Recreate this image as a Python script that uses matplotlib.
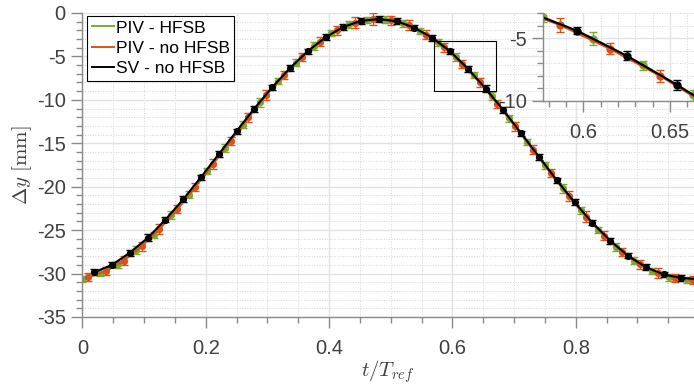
import matplotlib
matplotlib.use('Agg')
import matplotlib.pyplot as plt
from matplotlib.lines import Line2D
from matplotlib.patches import Rectangle
from matplotlib.ticker import MultipleLocator
import numpy as np

# sample times (frames of 1/104 T_ref, every third frame per series)
t_green = np.arange(0, 103, 3) / 104
t_orange = np.arange(1, 104, 3) / 104
t_black = np.arange(2, 105, 3) / 104

dy_green = [-30.62, -29.95, -28.95, -27.30, -25.60, -23.25, -20.95, -18.20, -15.55, -12.85,
            -10.30, -7.80, -5.70, -3.80, -2.30, -1.30, -0.80, -0.75, -1.20, -2.10,
            -3.35, -5.05, -7.15, -9.55, -12.10, -14.85, -17.55, -20.20, -22.70, -24.95,
            -26.90, -28.50, -29.70, -30.40, -30.70]
dy_orange = [-30.40, -29.70, -28.50, -26.85, -24.85, -22.60, -20.05, -17.40, -14.70, -12.00,
             -9.45, -7.15, -5.05, -3.30, -2.00, -1.10, -0.70, -0.85, -1.40, -2.50,
             -3.95, -5.85, -8.00, -10.45, -13.05, -15.75, -18.45, -21.10, -23.45, -25.65,
             -27.50, -28.95, -29.95, -30.55, -30.75]
dy_black = [-29.85, -29.00, -27.60, -25.90, -23.80, -21.45, -18.90, -16.25, -13.60, -11.00,
            -8.55, -6.35, -4.40, -2.80, -1.60, -0.90, -0.70, -0.95, -1.70, -2.85,
            -4.40, -6.40, -8.70, -11.20, -13.85, -16.55, -19.25, -21.80, -24.15, -26.20,
            -27.95, -29.25, -30.10, -30.50, -30.65]

err_green = [0.35, 0.30, 0.40, 0.45, 0.35, 0.50, 0.40, 0.35, 0.45, 0.40, 0.50, 0.35, 0.40, 0.45,
             0.35, 0.40, 0.35, 0.45, 0.40, 0.35, 0.40, 0.50, 0.35, 0.45, 0.40, 0.35, 0.45, 0.50,
             0.40, 0.35, 0.45, 0.40, 0.35, 0.40, 0.35]
err_orange = [0.50, 0.45, 0.55, 0.50, 0.60, 0.45, 0.50, 0.55, 0.45, 0.50, 0.60, 0.45, 0.50, 0.55,
              0.50, 0.60, 0.65, 0.50, 0.55, 0.50, 0.55, 0.45, 0.50, 0.45, 0.55, 0.50, 0.45, 0.55,
              0.60, 0.50, 0.45, 0.50, 0.55, 0.45, 0.50]
err_black = [0.35, 0.30, 0.35, 0.40, 0.30, 0.35, 0.30, 0.35, 0.30, 0.35, 0.30, 0.35, 0.30, 0.35,
             0.30, 0.35, 0.30, 0.35, 0.30, 0.35, 0.30, 0.35, 0.40, 0.35, 0.30, 0.35, 0.30, 0.35,
             0.30, 0.35, 0.30, 0.35, 0.30, 0.35, 0.30]

labels = ['PIV - HFSB', 'PIV - no HFSB', 'SV - no HFSB']
colors = ['#77AC30', '#D95319', 'black']

plt.rcParams['font.family'] = ['Liberation Sans', 'DejaVu Sans']
plt.rcParams['mathtext.fontset'] = 'cm'

fig = plt.figure(figsize=(6.94, 3.87), dpi=100)
ax = fig.add_axes([82.4/694, 1-317/387, 1-82.4/694, (317-13)/387])
axin = fig.add_axes([543.3/694, 1-101/387, 1-543.3/694, 88/387])

series = [(t_green, dy_green, err_green), (t_orange, dy_orange, err_orange), (t_black, dy_black, err_black)]


def style(a, fs):
    for s in ['top', 'right']:
        a.spines[s].set_visible(False)
    for s in ['left', 'bottom']:
        a.spines[s].set_color('#8a8a8a')
        a.spines[s].set_linewidth(1.0)
    a.tick_params(which='major', direction='out', length=8, width=1, color='#8a8a8a',
                  labelcolor='#404040', labelsize=fs)
    a.tick_params(which='minor', direction='out', length=4.5, width=1, color='#8a8a8a')
    a.tick_params(axis='x', which='major', pad=8)
    a.tick_params(axis='y', which='major', pad=4)
    a.grid(True, which='major', color='#e3e3e3', lw=1.0, ls='-')
    a.grid(True, which='minor', color='#d6d6d6', lw=0.7, ls=':')
    a.set_axisbelow(True)


for a, ms, lw in ((ax, 4.2, 1.5), (axin, 5.0, 1.6)):
    for (tt, yy, ee), c in zip(series, colors):
        a.errorbar(tt, yy, yerr=ee, fmt='-o', color=c, ecolor=c, lw=lw, elinewidth=1.0,
                   ms=ms, capsize=3, capthick=1.0)

ax.set_xlim(0, 0.9917)
ax.set_ylim(-35, 0)
ax.xaxis.set_minor_locator(MultipleLocator(0.05))
ax.yaxis.set_minor_locator(MultipleLocator(1))
ax.set_xticks([0, 0.2, 0.4, 0.6, 0.8])
ax.set_xticklabels(['0', '0.2', '0.4', '0.6', '0.8'])
ax.set_yticks([0, -5, -10, -15, -20, -25, -30, -35])
ax.set_yticklabels(['0', '-5', '-10', '-15', '-20', '-25', '-30', '-35'])
style(ax, 14.5)
ax.set_xlabel(r'$t/T_{ref}$', fontsize=15, color='#404040', labelpad=0)
ax.set_ylabel(r'$\Delta y\ [\mathrm{mm}]$', fontsize=15, color='#404040', labelpad=2)

ax.add_patch(Rectangle((0.570, -8.94), 0.101, 5.75, fill=False, ec='black', lw=0.8, zorder=5))

handles = [Line2D([], [], color=c, lw=1.4) for c in colors]
leg = ax.legend(handles, labels, loc='upper left', bbox_to_anchor=(0.008, 0.99), fontsize=12.5,
                handlelength=1.3, handletextpad=0.1, borderpad=0.25, labelspacing=0.3,
                fancybox=False, framealpha=1, borderaxespad=0)
leg.get_frame().set_edgecolor('black')
leg.get_frame().set_linewidth(0.8)

axin.set_xlim(60/104, 0.6638)
axin.set_ylim(-10, -3)
axin.xaxis.set_minor_locator(MultipleLocator(0.01))
axin.yaxis.set_minor_locator(MultipleLocator(1))
axin.set_xticks([0.6, 0.65])
axin.set_xticklabels(['0.6', '0.65'])
axin.set_yticks([-5, -10])
axin.set_yticklabels(['-5', '-10'])
style(axin, 14.5)
axin.set_facecolor('white')

fig.savefig('out.png', dpi=100)
